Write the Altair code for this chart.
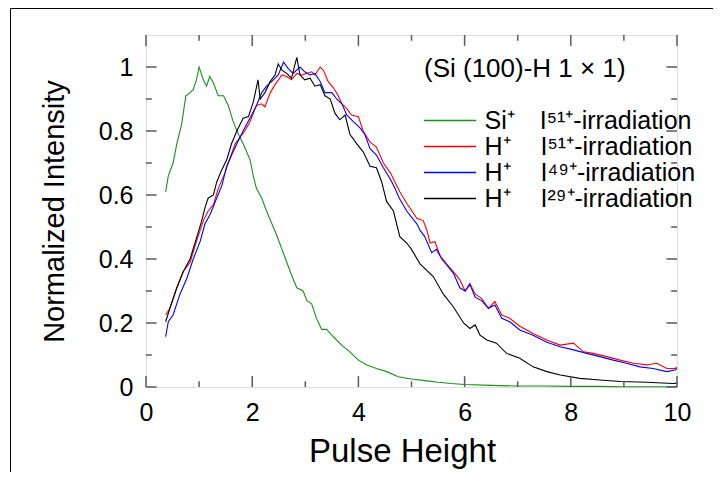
import altair as alt
import pandas as pd

# ---------------- data ----------------
si_x = [0.37, 0.42, 0.51, 0.58, 0.67, 0.75, 0.83, 0.89, 0.95, 1.00, 1.08, 1.14, 1.20, 1.27,
        1.36, 1.46, 1.55, 1.64, 1.74, 1.83, 1.96, 2.02, 2.08, 2.18, 2.27, 2.37, 2.46, 2.56,
        2.65, 2.74, 2.84, 2.96, 3.03, 3.12, 3.21, 3.31, 3.40, 3.53, 3.69, 3.84, 4.00, 4.16,
        4.34, 4.53, 4.75, 5.00, 5.25, 5.50, 5.75, 6.00, 6.50, 7.00, 7.50, 8.00, 8.50, 9.00,
        9.50, 10.0]
si_y = [0.61, 0.66, 0.70, 0.76, 0.82, 0.91, 0.92, 0.93, 0.96, 1.00, 0.96, 0.94, 0.97, 0.95,
        0.91, 0.91, 0.88, 0.83, 0.79, 0.76, 0.71, 0.66, 0.62, 0.59, 0.55, 0.51, 0.475, 0.43,
        0.39, 0.35, 0.31, 0.30, 0.27, 0.26, 0.215, 0.18, 0.18, 0.157, 0.13, 0.11, 0.084, 0.069,
        0.058, 0.048, 0.032, 0.025, 0.020, 0.015, 0.011, 0.008, 0.005, 0.003, 0.003, 0.002,
        0.002, 0.001, 0.001, 0.001]

h51_x = [0.37, 0.45, 0.58, 0.70, 0.83, 0.95, 1.08, 1.17, 1.27, 1.36, 1.49, 1.58, 1.68, 1.77,
         1.86, 1.96, 2.08, 2.18, 2.24, 2.34, 2.43, 2.56, 2.65, 2.74, 2.84, 2.93, 3.03, 3.12,
         3.18, 3.28, 3.34, 3.43, 3.53, 3.62, 3.69, 3.78, 3.87, 4.00, 4.09, 4.22, 4.34, 4.47,
         4.60, 4.72, 4.78, 4.91, 5.10, 5.22, 5.29, 5.35, 5.44, 5.54, 5.66, 5.79, 5.91, 6.01,
         6.10, 6.20, 6.32, 6.45, 6.57, 6.70, 6.85, 7.04, 7.29, 7.55, 7.80, 8.05, 8.24, 8.42,
         8.68, 8.93, 9.18, 9.43, 9.62, 9.81, 9.96, 10.0]
h51_y = [0.225, 0.246, 0.31, 0.36, 0.39, 0.455, 0.52, 0.55, 0.57, 0.62, 0.67, 0.715, 0.76, 0.78,
         0.80, 0.83, 0.88, 0.885, 0.875, 0.92, 0.945, 0.975, 0.97, 0.96, 0.98, 0.975, 0.98, 0.985,
         0.975, 1.0, 0.99, 0.955, 0.935, 0.91, 0.885, 0.87, 0.85, 0.845, 0.80, 0.765, 0.75, 0.70,
         0.67, 0.63, 0.61, 0.574, 0.527, 0.52, 0.49, 0.45, 0.454, 0.41, 0.385, 0.36, 0.335, 0.30,
         0.324, 0.29, 0.277, 0.246, 0.267, 0.225, 0.215, 0.19, 0.167, 0.147, 0.131, 0.137, 0.11,
         0.105, 0.095, 0.084, 0.074, 0.069, 0.074, 0.058, 0.058, 0.062]

h49_x = [0.37, 0.42, 0.51, 0.64, 0.77, 0.89, 1.02, 1.11, 1.21, 1.33, 1.43, 1.52, 1.64, 1.74,
         1.86, 1.99, 2.08, 2.18, 2.27, 2.37, 2.49, 2.59, 2.68, 2.77, 2.90, 2.99, 3.09, 3.18,
         3.28, 3.37, 3.50, 3.59, 3.69, 3.78, 3.90, 4.03, 4.12, 4.22, 4.34, 4.47, 4.60, 4.69,
         4.77, 4.91, 5.10, 5.16, 5.25, 5.38, 5.47, 5.57, 5.69, 5.79, 5.91, 6.01, 6.10, 6.20,
         6.32, 6.45, 6.57, 6.70, 6.85, 7.04, 7.29, 7.55, 7.80, 8.05, 8.30, 8.55, 8.80, 9.05,
         9.30, 9.55, 9.81, 9.96, 10.0]
h49_y = [0.157, 0.204, 0.225, 0.29, 0.34, 0.40, 0.455, 0.51, 0.54, 0.59, 0.63, 0.69, 0.735, 0.77,
         0.81, 0.85, 0.88, 0.92, 0.94, 0.955, 0.975, 1.015, 0.995, 0.98, 1.0, 0.985, 0.975, 0.98,
         0.955, 0.92, 0.92, 0.90, 0.885, 0.85, 0.83, 0.81, 0.79, 0.745, 0.725, 0.685, 0.65, 0.62,
         0.59, 0.55, 0.51, 0.49, 0.47, 0.42, 0.43, 0.40, 0.376, 0.355, 0.31, 0.30, 0.32, 0.28,
         0.27, 0.246, 0.256, 0.215, 0.204, 0.178, 0.162, 0.14, 0.126, 0.116, 0.105, 0.095, 0.084,
         0.074, 0.063, 0.058, 0.048, 0.053, 0.058]

h29_x = [0.37, 0.45, 0.58, 0.70, 0.83, 0.95, 1.05, 1.11, 1.17, 1.27, 1.33, 1.43, 1.52, 1.61,
         1.71, 1.83, 1.93, 2.02, 2.11, 2.15, 2.24, 2.34, 2.43, 2.49, 2.56, 2.65, 2.74, 2.84,
         2.90, 2.99, 3.09, 3.18, 3.28, 3.37, 3.47, 3.56, 3.65, 3.75, 3.84, 3.97, 4.09, 4.22,
         4.34, 4.44, 4.53, 4.66, 4.78, 4.91, 5.00, 5.16, 5.41, 5.60, 5.79, 5.98, 6.10, 6.20,
         6.29, 6.42, 6.60, 6.79, 7.04, 7.29, 7.55, 7.80, 8.17, 8.55, 8.93, 9.43, 9.93, 10.0]
h29_y = [0.204, 0.246, 0.31, 0.36, 0.40, 0.465, 0.52, 0.56, 0.59, 0.60, 0.64, 0.68, 0.71, 0.76,
         0.80, 0.84, 0.845, 0.89, 0.96, 0.90, 0.92, 0.955, 0.975, 1.01, 0.99, 0.98, 0.965, 1.03,
         0.975, 0.96, 0.965, 0.94, 0.945, 0.91, 0.90, 0.855, 0.835, 0.85, 0.79, 0.76, 0.735, 0.69,
         0.685, 0.64, 0.58, 0.55, 0.47, 0.45, 0.43, 0.385, 0.345, 0.29, 0.25, 0.20, 0.183, 0.194,
         0.162, 0.147, 0.137, 0.105, 0.09, 0.063, 0.048, 0.0375, 0.027, 0.022, 0.017, 0.015, 0.011,
         0.012]

series_names = ["Si\u207a\u2002\u2002I\u2075\u00b9\u207a-irradiation",
                "H\u207a\u2002\u2002\u2009I\u2075\u00b9\u207a-irradiation",
                "H\u207a\u2002\u2002\u2009I\u2074\u2079\u207a-irradiation",
                "H\u207a\u2002\u2002\u2009I\u00b2\u2079\u207a-irradiation"]
series_colors = ["#1a8f1a", "#ff0000", "#0000ff", "#000000"]
legend_title = "(Si (100)-H 1 \u00d7 1)"

x_major = [0, 2, 4, 6, 8, 10]
x_minor = [1, 3, 5, 7, 9]
y_major = [0, 0.2, 0.4, 0.6, 0.8, 1.0]
y_minor = [0.1, 0.3, 0.5, 0.7, 0.9]

X_DOMAIN = [0, 10]
Y_DOMAIN = [0, 1.1]
W, H = 531, 352
PAD = {"left": 138, "top": 27, "right": 36, "bottom": 85}
FONT = "Liberation Sans"
FRAME = "#5a5a5a"

# ---------------- tables ----------------
frames = []
for xs, ys, name in [(si_x, si_y, series_names[0]), (h51_x, h51_y, series_names[1]),
                     (h49_x, h49_y, series_names[2]), (h29_x, h29_y, series_names[3])]:
    frames.append(pd.DataFrame({"x": xs, "y": ys, "series": name}))
lines_df = pd.concat(frames, ignore_index=True)

# inward tick segments (length expressed in data units of each scale)
xl_major, xl_minor = 0.20, 0.11
yl_major, yl_minor = 0.034, 0.018
rows = []
for v in x_major:
    rows.append(dict(tx=v, tx2=v, ty=0, ty2=yl_major))
    rows.append(dict(tx=v, tx2=v, ty=Y_DOMAIN[1], ty2=Y_DOMAIN[1] - yl_major))
for v in x_minor:
    rows.append(dict(tx=v, tx2=v, ty=0, ty2=yl_minor))
    rows.append(dict(tx=v, tx2=v, ty=Y_DOMAIN[1], ty2=Y_DOMAIN[1] - yl_minor))
for v in y_major:
    rows.append(dict(tx=0, tx2=xl_major, ty=v, ty2=v))
    rows.append(dict(tx=X_DOMAIN[1], tx2=X_DOMAIN[1] - xl_major, ty=v, ty2=v))
for v in y_minor:
    rows.append(dict(tx=0, tx2=xl_minor, ty=v, ty2=v))
    rows.append(dict(tx=X_DOMAIN[1], tx2=X_DOMAIN[1] - xl_minor, ty=v, ty2=v))
ticks_df = pd.DataFrame(rows)

xscale = alt.Scale(domain=X_DOMAIN, nice=False, zero=False)
yscale = alt.Scale(domain=Y_DOMAIN, nice=False, zero=False)

lines = alt.Chart(lines_df).mark_line(strokeWidth=1.1).encode(
    x=alt.X("x:Q", scale=xscale,
            axis=alt.Axis(values=x_major, format="d", ticks=False, domain=False, grid=False,
                          labelFlush=False, labelOverlap=False,
                          labelFont=FONT, labelFontSize=25, labelColor="black", labelPadding=13,
                          title="Pulse Height", titleFont=FONT, titleFontSize=33,
                          titleFontWeight="normal", titleColor="black",
                          titleX=256, titleY=74, titleBaseline="alphabetic", titleAlign="center")),
    y=alt.Y("y:Q", scale=yscale,
            axis=alt.Axis(values=y_major, format=".1~f", ticks=False, domain=False, grid=False,
                          labelFlush=False, labelOverlap=False,
                          labelFont=FONT, labelFontSize=25, labelColor="black", labelPadding=13,
                          title="Normalized Intensity", titleFont=FONT, titleFontSize=29,
                          titleFontWeight="normal", titleColor="black",
                          titleX=-83, titleY=H / 2, titleBaseline="alphabetic", titleAlign="center",
                          titleAngle=270)),
    color=alt.Color("series:N",
                    scale=alt.Scale(domain=series_names, range=series_colors),
                    sort=series_names,
                    legend=alt.Legend(orient="none", legendX=278, legendY=21, padding=0,
                                      title=legend_title, titleFont=FONT, titleFontSize=26,
                                      titleFontWeight="normal", titleColor="black",
                                      titleLimit=1000, titlePadding=26,
                                      labelFont=FONT, labelFontSize=25, labelAlign="left",
                                      labelColor="black", labelLimit=1000, labelOffset=22,
                                      symbolType="M-5,0H5", symbolSize=108,
                                      symbolOffset=13.5, symbolStrokeWidth=1.5,
                                      rowPadding=-1.6)),
)

ticks = alt.Chart(ticks_df).mark_rule(color=FRAME, strokeWidth=1.5).encode(
    x=alt.X("tx:Q", scale=xscale), x2="tx2:Q",
    y=alt.Y("ty:Q", scale=yscale), y2="ty2:Q",
)

one = pd.DataFrame({"k": [0]})
frame_top = alt.Chart(one).mark_rule(color="black", strokeWidth=1).encode(
    x=alt.value(-135.5), x2=alt.value(W + PAD["right"]), y=alt.value(-26.5))
frame_left = alt.Chart(one).mark_rule(color="black", strokeWidth=1).encode(
    x=alt.value(-135.5), y=alt.value(-26.5), y2=alt.value(H + PAD["bottom"]))

chart = alt.layer(lines, ticks, frame_top, frame_left).properties(
    width=W, height=H,
    autosize=alt.AutoSizeParams(type="none"),
    padding=PAD,
).configure_view(stroke=FRAME, strokeWidth=2).configure(background="white")

chart.save("out.html", embed_options={"renderer": "svg", "actions": False})
